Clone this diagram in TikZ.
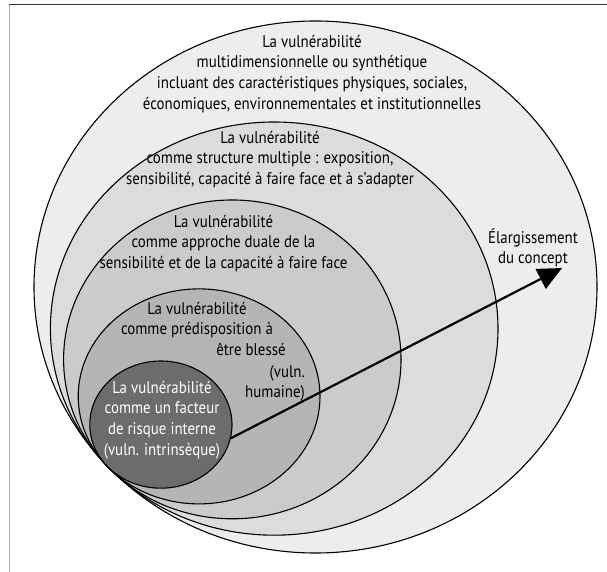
\documentclass[tikz,border=0pt]{standalone}
\usepackage{fontspec}
\setmainfont{PT Sans}[FakeStretch=0.88]
\usepackage{tikz}
\usetikzlibrary{shapes.geometric, arrows.meta}

\definecolor{ringA}{HTML}{EDEDED}
\definecolor{ringB}{HTML}{DCDCDC}
\definecolor{ringC}{HTML}{CBCBCB}
\definecolor{ringD}{HTML}{B5B5B5}
\definecolor{ringE}{HTML}{6C6C6C}

\begin{document}
\begin{tikzpicture}[x=1bp, y=1bp,
   ring/.style={ellipse, draw=black, line width=1.1bp, inner sep=0pt},
   txt/.style={align=center, anchor=base, inner sep=0pt, font=\fontsize{17}{20.8}\selectfont},
   widen/.style={line width=2.2bp, -{Triangle[length=24bp, width=22bp]}}]
   \useasboundingbox (0,0) rectangle (607,572);
   % frame
   \draw[gray!60, line width=1.3bp] (9.5,0) -- (9.5,567);
   \draw[black!80, line width=1bp] (9,567) -- (607,567);

   % nested rings, all touching at the lower left
   \node[ring, fill=ringA, minimum width=563bp, minimum height=532bp]     (multi)   at (315.5,285) {};
   \node[ring, fill=ringB, minimum width=447.6bp, minimum height=413.2bp] (struct)  at (274.2,243.4) {};
   \node[ring, fill=ringC, minimum width=337.4bp, minimum height=318.8bp] (dual)    at (232.3,212.6) {};
   \node[ring, fill=ringD, minimum width=241.8bp, minimum height=215bp]   (predisp) at (199.1,175.6) {};
   \node[ring, fill=ringE, minimum width=142.2bp, minimum height=127.2bp] (core)    at (160.9,147.4) {};

   % base = last line
   \node[txt] (multi text) at (312,462.6) {La vulnérabilité\\ multidimensionnelle ou synthétique\\ incluant des caractéristiques physiques, sociales,\\ économiques, environnementales et institutionnelles};
   \node[txt] (struct text) at (270,387.4) {La vulnérabilité\\ comme structure multiple : exposition,\\ sensibilité, capacité à faire face et à s’adapter};
   \node[txt] (dual text) at (223.5,303.4) {La vulnérabilité\\ comme approche duale de la\\ sensibilité et de la capacité à faire face};
   \node[txt] (predisp text) at (197,237.2) {La vulnérabilité\\ comme prédisposition à};
   \node[txt] (hurt text) at (251,216) {être blessé};
   \node[txt, align=right, anchor=base east] (human text) at (305,174.2) {(vuln.\\ humaine)};
   \node[txt, text=white] (core text) at (162,116.6) {La vulnérabilité\\ comme un facteur\\ de risque interne\\ (vuln. intrinsèque)};
   \node[txt] (widen text) at (533,308.2) {Élargissement\\ du concept};

   \coordinate (tip) at (562,304);
   \draw[widen] (core.-11) -- (tip);
\end{tikzpicture}
\end{document}
